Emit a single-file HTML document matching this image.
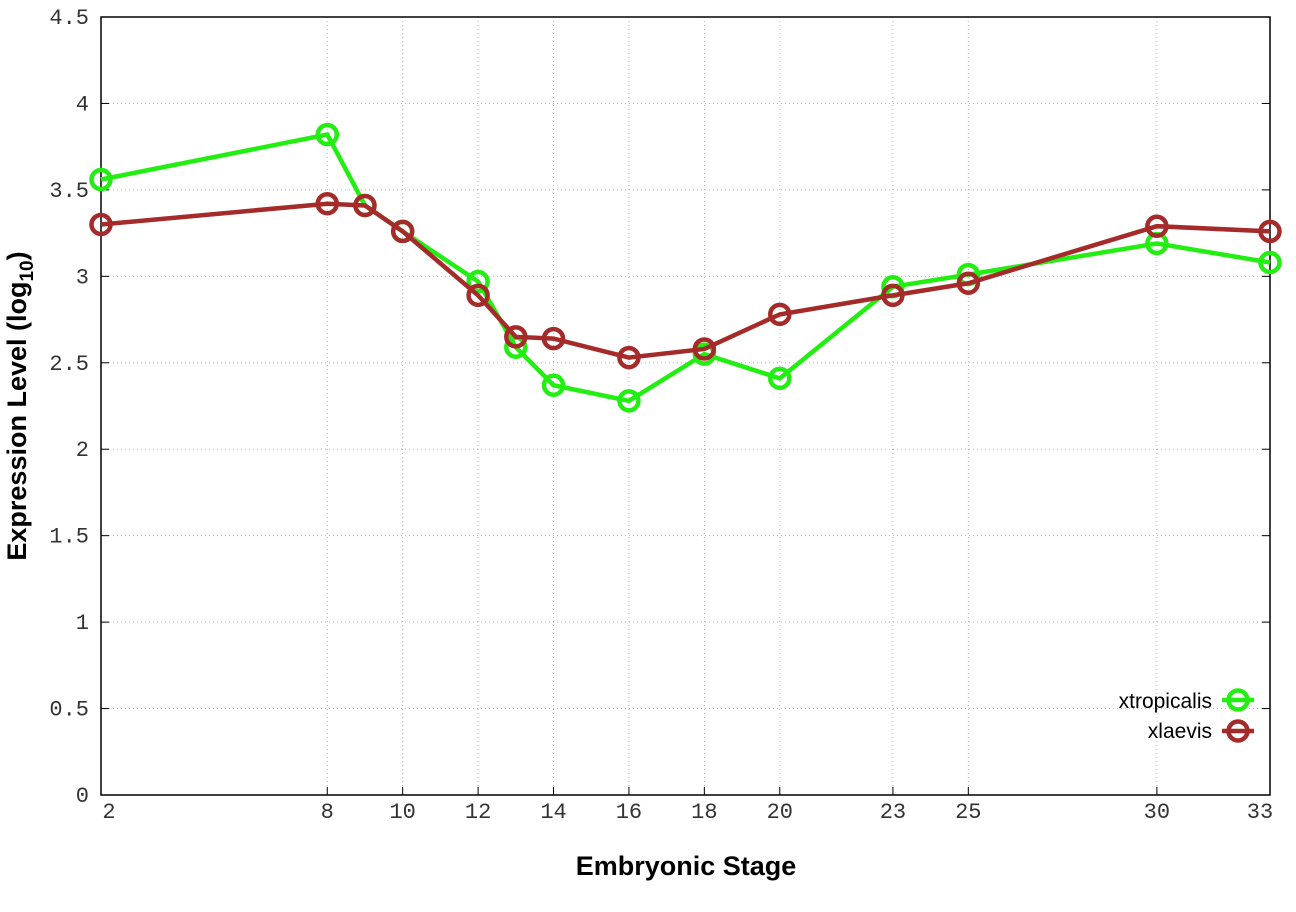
<!DOCTYPE html>
<html><head><meta charset="utf-8"><style>body{margin:0;background:#fff}</style></head>
<body>
<svg id="s" width="1296" height="907" xmlns="http://www.w3.org/2000/svg" font-family="Liberation Mono, monospace"></svg>
<script>
const s=document.getElementById('s');
const L=101,R=1270,T=17,B=795;
const X=v=>L+(v-2)*(R-L)/31, Y=v=>B-v*(B-T)/4.5;
let h='';
const xs=[2,8,9,10,12,13,14,16,18,20,23,25,30,33];
const xl=[2,8,10,12,14,16,18,20,23,25,30,33];
for(let i=1;i<9;i++){const y=Y(i*0.5);h+=`<line x1="${L}" x2="${R}" y1="${y}" y2="${y}" stroke="#bbb" stroke-dasharray="1,3"/>`;}
for(const v of xl){const x=X(v);if(v!=2&&v!=33)h+=`<line x1="${x}" x2="${x}" y1="${T}" y2="${B}" stroke="#bbb" stroke-dasharray="1,3"/>`;
let tx=v==2?x+8:(v==33?x-10:x);
h+=`<line x1="${x}" x2="${x}" y1="${B}" y2="${B-8}" stroke="#000"/><text x="${tx}" y="818" font-size="22" text-anchor="middle" fill="#333">${v}</text>`;}
for(let i=0;i<=9;i++){const y=Y(i*0.5);
h+=`<line x1="${L}" x2="${L+8}" y1="${y}" y2="${y}" stroke="#000"/><line x1="${R}" x2="${R-8}" y1="${y}" y2="${y}" stroke="#000"/><text x="89" y="${y+7}" font-size="22" text-anchor="end" fill="#333">${(i*0.5).toString()}</text>`;}
h+=`<rect x="${L}" y="${T}" width="${R-L}" height="${B-T}" fill="none" stroke="#000" stroke-width="1.5"/>`;
const g=[3.56,3.82,3.41,3.26,2.97,2.59,2.37,2.28,2.55,2.41,2.94,3.01,3.19,3.08];
const r=[3.30,3.42,3.41,3.26,2.89,2.65,2.64,2.53,2.58,2.78,2.89,2.96,3.29,3.26];
function ser(d,c){let p=d.map((v,i)=>X(xs[i])+','+Y(v)).join(' ');
let o=`<polyline points="${p}" fill="none" stroke="${c}" stroke-width="4.5"/>`;
d.forEach((v,i)=>o+=`<circle cx="${X(xs[i])}" cy="${Y(v)}" r="9.5" fill="none" stroke="${c}" stroke-width="4.5"/>`);return o;}
h+=ser(g,'#22ee11')+ser(r,'#a52a2a');
h+=`<g font-family="Liberation Sans, sans-serif" font-size="21"><text x="1212" y="708" text-anchor="end">xtropicalis</text><text x="1212" y="738" text-anchor="end">xlaevis</text></g>`;
h+=`<line x1="1222" x2="1254" y1="700" y2="700" stroke="#22ee11" stroke-width="4.5"/><circle cx="1238" cy="700" r="9.5" fill="none" stroke="#22ee11" stroke-width="4.5"/>`;
h+=`<line x1="1222" x2="1254" y1="731" y2="731" stroke="#a52a2a" stroke-width="4.5"/><circle cx="1238" cy="731" r="9.5" fill="none" stroke="#a52a2a" stroke-width="4.5"/>`;
h+=`<text x="686" y="875" font-family="Liberation Sans, sans-serif" font-weight="bold" font-size="27" text-anchor="middle">Embryonic Stage</text>`;
h+=`<text transform="translate(26,406) rotate(-90)" font-family="Liberation Sans, sans-serif" font-weight="bold" font-size="27" text-anchor="middle">Expression Level (log<tspan font-size="19" dy="7">10</tspan><tspan dy="-7">)</tspan></text>`;
s.innerHTML=h;
</script>
</body></html>
